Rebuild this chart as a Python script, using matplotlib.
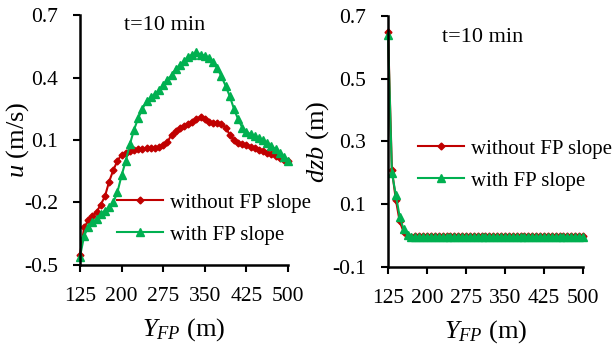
# u and dzb profiles across the floodplain, t = 10 min

import matplotlib
matplotlib.use('Agg')
import matplotlib.pyplot as plt
import numpy as np

plt.rcParams['font.family'] = ['Liberation Serif', 'DejaVu Serif']
plt.rcParams['mathtext.fontset'] = 'custom'
plt.rcParams['mathtext.rm'] = 'Liberation Serif'
plt.rcParams['mathtext.it'] = 'Liberation Serif:italic'

RED = '#C00000'
GREEN = '#00B050'

y_fp = np.arange(125, 500.1, 7.5)

u_without = [-0.45, -0.32, -0.285, -0.265, -0.245, -0.21, -0.17, -0.10, -0.045, 0.0,
             0.03, 0.038, 0.048, 0.052, 0.055, 0.058, 0.06, 0.062, 0.064, 0.066,
             0.075, 0.09, 0.125, 0.145, 0.158, 0.168, 0.175, 0.185, 0.20, 0.21,
             0.20, 0.188, 0.182, 0.18, 0.175, 0.16, 0.125, 0.10, 0.088, 0.08,
             0.074, 0.068, 0.06, 0.052, 0.046, 0.04, 0.032, 0.022, 0.015, 0.005,
             -0.002]
u_with = [-0.46, -0.36, -0.316, -0.295, -0.278, -0.255, -0.24, -0.222, -0.20, -0.15,
          -0.07, 0.0, 0.08, 0.15, 0.205, 0.25, 0.285, 0.305, 0.32, 0.338,
          0.365, 0.39, 0.41, 0.44, 0.46, 0.48, 0.50, 0.51, 0.522, 0.51,
          0.505, 0.495, 0.475, 0.445, 0.405, 0.36, 0.31, 0.25, 0.20, 0.16,
          0.14, 0.128, 0.118, 0.108, 0.098, 0.088, 0.072, 0.055, 0.038, 0.02,
          0.0]

dzb_without = [0.65, 0.21, 0.115, 0.045, 0.012, 0.0, -0.003] + [-0.002] * 44
dzb_with = [0.64, 0.20, 0.13, 0.06, 0.02, 0.002, -0.004] + [-0.004] * 44

x_ticks = [125, 200, 275, 350, 425, 500]
u_ticks = [-0.5, -0.2, 0.1, 0.4, 0.7]
dzb_ticks = [-0.1, 0.1, 0.3, 0.5, 0.7]


def style_axes(ax, yticks):
    ax.set_xlim(125, 500)
    ax.set_ylim(yticks[0], yticks[-1])
    ax.set_xticks(x_ticks)
    ax.set_yticks(yticks)
    ax.set_yticklabels(['%.1f' % t for t in yticks])
    for s in ('top', 'right'):
        ax.spines[s].set_visible(False)
    for s in ('left', 'bottom'):
        ax.spines[s].set_linewidth(1.8)
    ax.tick_params(direction='out', length=5, width=1.5, labelsize=15.5, pad=11)
    ax.set_xlabel(r'$Y_{FP}$ (m)', fontsize=19, labelpad=7)


fig = plt.figure(figsize=(6.12, 3.49), dpi=100)
ax1 = fig.add_axes([0.1307, 0.2407, 0.3399, 0.7163])
ax2 = fig.add_axes([0.634, 0.235, 0.3186, 0.7192])

for ax, a, b in ((ax1, u_without, u_with), (ax2, dzb_without, dzb_with)):
    ax.plot(y_fp, a, color=RED, lw=1.5, marker='D', ms=3.5, clip_on=False,
            label='without FP slope')
    ax.plot(y_fp, b, color=GREEN, lw=1.5, marker='^', ms=5.5, clip_on=False,
            label='with FP slope')

style_axes(ax1, u_ticks)
style_axes(ax2, dzb_ticks)
ax1.set_ylabel(r'$u$ (m/s)', fontsize=19, labelpad=-5)
ax2.set_ylabel(r'$dzb$ (m)', fontsize=19, labelpad=1)

ax1.text(165 / 612, 1 - 25 / 349, 't=10 min', transform=fig.transFigure,
         ha='center', va='center', fontsize=16)
ax2.text(483 / 612, 1 - 38 / 349, 't=10 min', transform=fig.transFigure,
         ha='center', va='center', fontsize=16)

for ax, x0, y0 in ((ax1, 117, 193), (ax2, 418, 139)):
    ax.legend(loc='upper left', bbox_to_anchor=(x0 / 612, 1 - y0 / 349),
              bbox_transform=fig.transFigure, frameon=False, fontsize=15,
              numpoints=1, handlelength=2.2, handletextpad=0.35,
              labelspacing=0.6, borderpad=0, borderaxespad=0)

fig.savefig('out.png', dpi=100)
